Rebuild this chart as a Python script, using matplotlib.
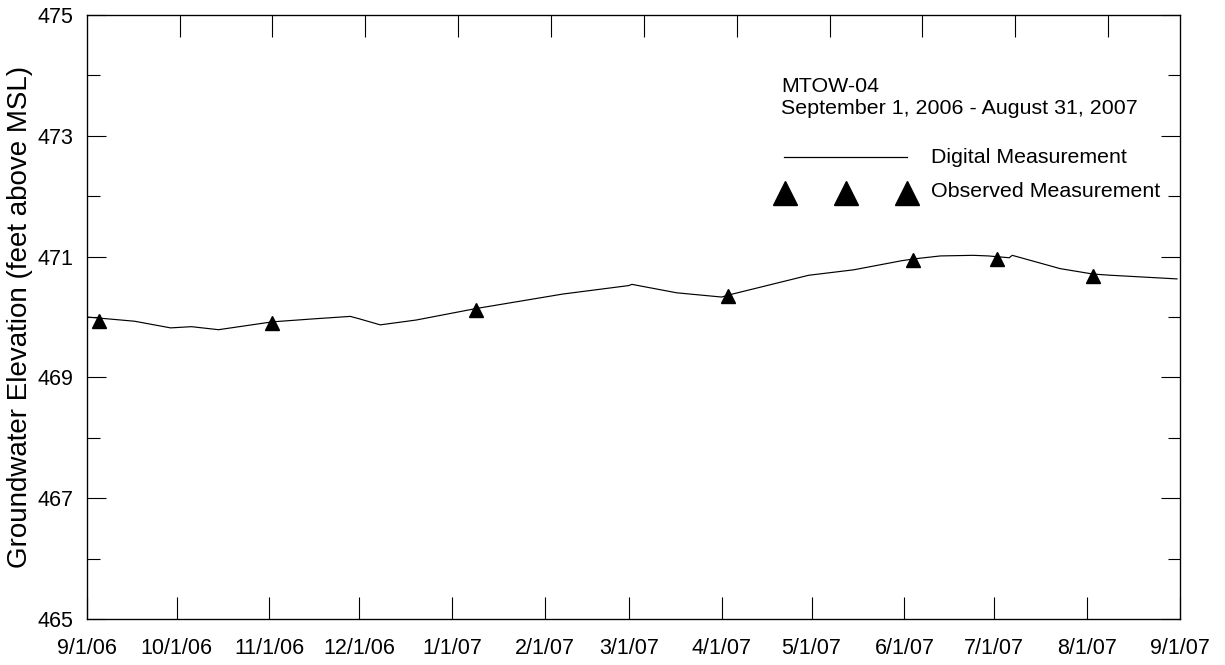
"""Groundwater elevation hydrograph for MTOW-04, Sep 2006 - Aug 2007."""

import matplotlib

matplotlib.use("Agg")

import matplotlib.dates as mdates
import matplotlib.pyplot as plt
import pandas as pd
from matplotlib.lines import Line2D

plt.rcParams["font.family"] = ["Liberation Sans", "DejaVu Sans"]

# continuous logger record
digital_dates = [
    "2006-09-01", "2006-09-17", "2006-09-29", "2006-10-06", "2006-10-15",
    "2006-11-02", "2006-11-16", "2006-11-28", "2006-12-01", "2006-12-08",
    "2006-12-20", "2007-01-09", "2007-02-07", "2007-03-01", "2007-03-02",
    "2007-03-17", "2007-04-01", "2007-04-03", "2007-04-12", "2007-04-30",
    "2007-05-15", "2007-05-31", "2007-06-04", "2007-06-13", "2007-06-24",
    "2007-06-29", "2007-07-06", "2007-07-07", "2007-07-23", "2007-08-03",
    "2007-08-09", "2007-08-31",
]
digital_values = [
    470.00, 469.93, 469.82, 469.84, 469.79,
    469.92, 469.97, 470.01, 469.97, 469.87,
    469.95, 470.14, 470.38, 470.52, 470.54,
    470.40, 470.33, 470.36, 470.47, 470.69,
    470.78, 470.93, 470.96, 471.01, 471.02,
    471.01, 470.98, 471.02, 470.80, 470.71,
    470.69, 470.63,
]

# manual (tape) readings
observed_dates = [
    "2006-09-05", "2006-11-02", "2007-01-09", "2007-04-03",
    "2007-06-04", "2007-07-02", "2007-08-03",
]
observed_values = [469.93, 469.90, 470.12, 470.34, 470.95, 470.96, 470.68]

month_ticks = [
    "2006-09-01", "2006-10-01", "2006-11-01", "2006-12-01", "2007-01-01",
    "2007-02-01", "2007-03-01", "2007-04-01", "2007-05-01", "2007-06-01",
    "2007-07-01", "2007-08-01", "2007-09-01",
]
month_labels = [
    "9/1/06", "10/1/06", "11/1/06", "12/1/06", "1/1/07", "2/1/07", "3/1/07",
    "4/1/07", "5/1/07", "6/1/07", "7/1/07", "8/1/07", "9/1/07",
]
y_major = [465, 467, 469, 471, 473, 475]
y_minor = [466, 468, 470, 472, 474]

well_name = "MTOW-04"
period_text = "September 1, 2006 - August 31, 2007"

W, H = 1225, 665


def px(x, y):
    """Pixel position (from top-left) to figure fraction."""
    return x / W, 1 - y / H


fig = plt.figure(figsize=(W / 100, H / 100), dpi=100)
ax = fig.add_axes([86.7 / W, 1 - 619.3 / H, 1093.3 / W, 604.6 / H])

ax.plot(pd.to_datetime(digital_dates), digital_values, color="black", lw=0.85)
ax.plot(pd.to_datetime(observed_dates), observed_values, linestyle="none",
        marker="^", markersize=9.6, color="black")

start = pd.Timestamp(month_ticks[0])
end = pd.Timestamp(month_ticks[-1])
ax.set_xlim(start, end)
ax.set_ylim(465, 475)

ax.set_xticks(pd.to_datetime(month_ticks))
ax.set_xticklabels(month_labels)
ax.set_yticks(y_major)
ax.set_yticks(y_minor, minor=True)

ax.tick_params(axis="x", direction="in", length=15.8, width=0.8,
               labelsize=15.5, pad=13.5)
ax.tick_params(axis="y", which="major", direction="in", length=13.7,
               width=0.8, labelsize=15.5, pad=9.5, right=True)
ax.tick_params(axis="y", which="minor", direction="in", length=9,
               width=0.8, right=True)
for spine in ax.spines.values():
    spine.set_linewidth(0.9)

# top axis ticks run on a 31-day step in the original
ax_top = ax.twiny()
ax_top.set_xlim(mdates.date2num(start), mdates.date2num(end))
top_ticks = [mdates.date2num(start + pd.Timedelta(days=31 * k)) for k in range(1, 12)]
ax_top.set_xticks(top_ticks)
ax_top.set_xticklabels([])
ax_top.tick_params(axis="x", direction="in", length=15.8, width=0.8)

ax.set_ylabel("Groundwater Elevation (feet above MSL)", fontsize=20, va="center")
ax.yaxis.set_label_coords(-0.0608, 0.5)

# legend block drawn by hand, like the original
fig.text(*px(781, 91.7), well_name, fontsize=15.4, va="baseline")
fig.text(*px(781, 114), period_text, fontsize=15.4, va="baseline")
fig.text(*px(931, 163.3), "Digital Measurement", fontsize=15.4, va="baseline")
fig.text(*px(931, 196.7), "Observed Measurement", fontsize=15.4, va="baseline")

lx0, ly = px(784, 156.7)
lx1, _ = px(906.7, 156.7)
fig.add_artist(Line2D([lx0, lx1], [ly, ly], color="black", lw=0.9,
                      transform=fig.transFigure))
tri_x = [px(x, 192.5)[0] for x in (785, 846, 907.3)]
tri_y = [px(0, 192.5)[1]] * 3
fig.add_artist(Line2D(tri_x, tri_y, linestyle="none", marker="^",
                      markersize=16.6, color="black",
                      transform=fig.transFigure))

fig.savefig("out.png", dpi=100)
